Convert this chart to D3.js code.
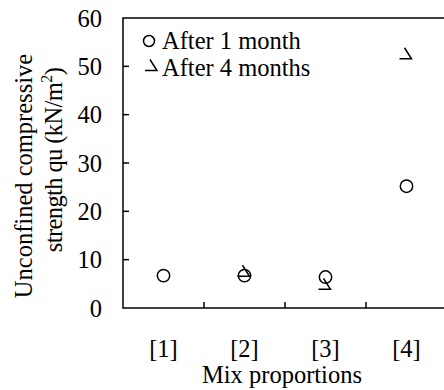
<!DOCTYPE html>
<html>
<head>
<meta charset="utf-8">
<script src="https://cdn.jsdelivr.net/npm/d3@7"></script>
<style>
  body { margin: 0; background: #fff; }
</style>
</head>
<body>
<div id="chart"></div>
<script>
// data
const mixes = ['[1]', '[2]', '[3]', '[4]'];
const oneMonth = [6.7, 6.7, 6.4, 25.2];
const fourMonths = [null, 7.5, 4.8, 52.5];
const yTicks = [0, 10, 20, 30, 40, 50, 60];

const W = 444, H = 390;
const m = {left: 123, top: 18, right: -3, bottom: 82};
const pw = W - m.left - m.right, ph = H - m.top - m.bottom;
const fs = 24.5;
const serif = '"Liberation Serif", "Times New Roman", serif';

const svg = d3.select('#chart').append('svg')
  .attr('width', W).attr('height', H)
  .attr('font-family', serif).attr('font-size', fs);
const g = svg.append('g').attr('transform', `translate(${m.left},${m.top})`);

const x = d3.scaleBand().domain(mixes).range([0, pw]);
const y = d3.scaleLinear().domain([0, 60]).range([ph, 0]);

// frame: left, bottom, top
g.append('path')
  .attr('d', `M${pw},0H0V${ph}H${pw}`)
  .attr('fill', 'none').attr('stroke', '#000').attr('stroke-width', 1.5);

// y ticks (inside)
g.selectAll('line.yt').data(yTicks.slice(1, -1)).enter().append('line')
  .attr('x1', 0).attr('x2', 6)
  .attr('y1', d => y(d)).attr('y2', d => y(d))
  .attr('stroke', '#000').attr('stroke-width', 1.5);
g.selectAll('text.yl').data(yTicks).enter().append('text')
  .attr('x', -21).attr('y', d => y(d)).attr('dy', '0.35em')
  .attr('text-anchor', 'end')
  .text(d => d);

// x ticks between categories (inside)
g.selectAll('line.xt').data(mixes.slice(1)).enter().append('line')
  .attr('x1', d => x(d)).attr('x2', d => x(d))
  .attr('y1', ph).attr('y2', ph - 6)
  .attr('stroke', '#000').attr('stroke-width', 1.5);
g.selectAll('text.xl').data(mixes).enter().append('text')
  .attr('x', d => x(d) + x.bandwidth() / 2).attr('y', ph + 49)
  .attr('text-anchor', 'middle')
  .text(d => d);

// axis titles
g.append('text')
  .attr('x', pw / 2 - 3).attr('y', ph + 75)
  .attr('text-anchor', 'middle')
  .text('Mix proportions');

const yt = svg.append('g').attr('transform', 'translate(0,176) rotate(-90)');
yt.append('text').attr('x', 0).attr('y', 32)
  .attr('text-anchor', 'middle')
  .text('Unconfined compressive');
const t2 = yt.append('text').attr('x', 16).attr('y', 62)
  .attr('text-anchor', 'middle').attr('letter-spacing', -0.6);
t2.append('tspan').text('strength qu (kN/m');
t2.append('tspan').attr('dy', -10).attr('font-size', 16).text('2');
t2.append('tspan').attr('dy', 10).text(')');

// markers
const triPath = 'M-2,-6.5L5,4.5H-7';
const cx = d => x(d) + x.bandwidth() / 2;

g.selectAll('circle.m1').data(mixes.map((k, i) => ({k, v: oneMonth[i]})))
  .enter().append('circle')
  .attr('cx', d => cx(d.k)).attr('cy', d => y(d.v)).attr('r', 6.2)
  .attr('fill', 'none').attr('stroke', '#000').attr('stroke-width', 1.5);

g.selectAll('path.m4')
  .data(mixes.map((k, i) => ({k, v: fourMonths[i]})).filter(d => d.v != null))
  .enter().append('path')
  .attr('transform', d => `translate(${cx(d.k)},${y(d.v)})`)
  .attr('d', triPath)
  .attr('fill', 'none').attr('stroke', '#000').attr('stroke-width', 1.5);

// legend
const lg = svg.append('g');
lg.append('circle').attr('cx', 149).attr('cy', 41).attr('r', 5.5)
  .attr('fill', 'none').attr('stroke', '#000').attr('stroke-width', 1.5);
lg.append('text').attr('x', 162).attr('y', 49)
  .text('After 1 month');
lg.append('path').attr('transform', 'translate(152,66)').attr('d', triPath)
  .attr('fill', 'none').attr('stroke', '#000').attr('stroke-width', 1.5);
lg.append('text').attr('x', 162).attr('y', 76)
  .text('After 4 months');
</script>
</body>
</html>
